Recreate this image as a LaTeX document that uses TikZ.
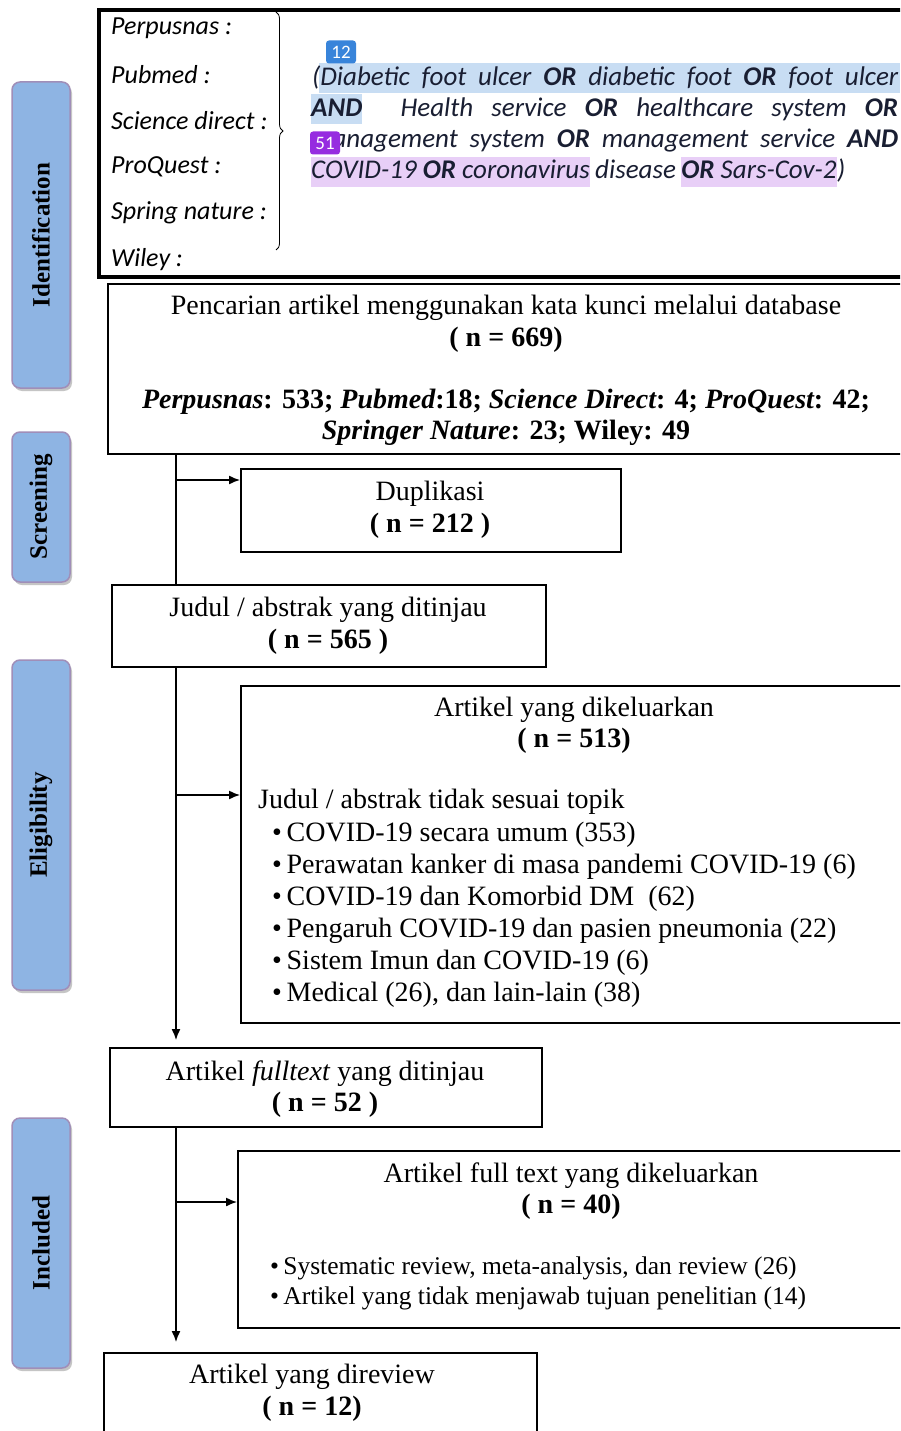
\documentclass[tikz,border=0pt]{standalone}
\usepackage{fontspec}
\setmainfont{Liberation Serif}
\newfontfamily\kwfont{Carlito}
\usetikzlibrary{positioning,arrows.meta,shadows,decorations.pathreplacing}

\definecolor{stageblue}{RGB}{142,180,227}
\definecolor{stageline}{RGB}{160,142,184}
\definecolor{hlblue}{RGB}{200,221,243}
\definecolor{hlpurple}{RGB}{232,207,247}
\definecolor{tagblue}{RGB}{56,132,218}
\definecolor{tagpurple}{RGB}{150,44,224}
\definecolor{kwtext}{RGB}{25,30,50}

\tikzset{
  box/.style={draw, line width=2.4pt, anchor=north west, inner sep=0pt},
  body/.style={font=\fontsize{28}{31}\selectfont, inner sep=0pt},
  small/.style={font=\fontsize{25.5}{30}\selectfont, inner sep=0pt},
  dbname/.style={font=\kwfont\itshape\fontsize{26}{31}\selectfont, inner sep=0pt, anchor=west},
  keyw/.style={font=\kwfont\itshape\fontsize{27}{31}\selectfont, inner xsep=0pt, inner ysep=0.5pt,
    text height=21pt, text depth=8pt, anchor=base west, text=kwtext},
  stage/.style={draw=stageline, fill=stageblue, line width=1.5pt, rounded corners=8pt,
    minimum width=58pt, inner sep=0pt, font=\bfseries\fontsize{25}{25}\selectfont,
    drop shadow={shadow xshift=2pt, shadow yshift=-3pt, fill=black!45}},
  tag/.style={fill=#1, rounded corners=3pt, text=white, font=\kwfont\fontsize{19}{19}\selectfont,
    minimum width=30pt, minimum height=23pt, inner sep=0pt},
  flow/.style={line width=1.4pt, -{Latex[length=11pt,width=9pt]}},
  trunk/.style={line width=1.4pt}
}

\begin{document}
\begin{tikzpicture}[x=1pt,y=-1pt]
  \fill[white] (0,0) rectangle (900,1431);
  \useasboundingbox (0,0) rectangle (900,1431);
  \clip (0,0) rectangle (900,1431);

  % stages on the left
  \foreach \stg/\top/\len in {Identification/82/306, Screening/432/150, Eligibility/660/330, Included/1118/250}
    \node[stage, minimum height=\len] (\stg) at (41,\top+\len/2) {\rotatebox{90}{\stg}};

  % search query
  \node[box, line width=4pt, minimum width=820, minimum height=267] (query) at (97,8) {};
  \foreach \db [count=\i] in {Perpusnas, Pubmed, Science direct, ProQuest, Spring nature, Wiley}
    \node[dbname] (db\i) at (111,-18+46.2*\i) {\db{} :};
  \draw[line width=0.8pt, decorate, decoration={brace, amplitude=7pt}] (276,12) -- (276,250);

  \fill[hlblue] (319,63) rectangle (900,93);
  \fill[hlblue] (311,94) rectangle (362,124);
  \node[keyw] (kw1) at (312,86) {\makebox[586pt][s]{(Diabetic foot ulcer \textbf{OR} diabetic foot \textbf{OR} foot ulcer}};
  \node[keyw] (kw2) at (311,117) {\makebox[587pt][s]{\textbf{AND}\hspace{20pt} Health service \textbf{OR} healthcare system \textbf{OR}}};
  \node[keyw] (kw3) at (311,148) {\makebox[587pt][s]{management system \textbf{OR} management service \textbf{AND}}};
  \node[keyw, fill=hlpurple] (kw4a) at (311,179) {COVID-19 \textbf{OR} coronavirus};
  \node[keyw] (kw4b) at (kw4a.base east) {\hspace*{5pt}disease\hspace*{5pt}};
  \node[keyw, fill=hlpurple] (kw4c) at (kw4b.base east) {\textbf{OR} Sars-Cov-2};
  \node[keyw] (kw4d) at (kw4c.base east) {)};
  \node[tag=tagblue] (tag12) at (341,52) {12};
  \node[tag=tagpurple] (tag51) at (325,143) {51};

  % database search
  \node[box, minimum width=820, minimum height=170] (search) at (107,283) {};
  \node[body] (searcht) at (506,308) {Pencarian artikel menggunakan kata kunci melalui database};
  \node[body] (searchn) at (506,340) {\bfseries ( n = 669)};
  \node[body, align=center] (searchdb) at (506,417) {\bfseries\itshape Perpusnas\upshape: 533; \itshape Pubmed\upshape:18; \itshape Science Direct\upshape: 4; \itshape ProQuest\upshape: 42;\\
    \bfseries\itshape Springer Nature\upshape: 23; Wiley: 49};

  % duplicates
  \node[box, minimum width=380, minimum height=83] (dup) at (240,468) {};
  \node[body] (dupt) at (430,494) {Duplikasi};
  \node[body] (dupn) at (430,526) {\bfseries ( n = 212 )};

  % title / abstract screening
  \node[box, minimum width=434, minimum height=82] (judul) at (111,584) {};
  \node[body] (judult) at (328,610) {Judul / abstrak yang ditinjau};
  \node[body] (juduln) at (328,642) {\bfseries ( n = 565 )};

  % excluded articles
  \node[box, minimum width=700, minimum height=337] (exc) at (240,685) {};
  \node[body] (exct) at (574,710) {Artikel yang dikeluarkan};
  \node[body] (excn) at (574,741) {\bfseries ( n = 513)};
  \node[body, anchor=west] (topik) at (258,802) {Judul / abstrak tidak sesuai topik};
  \foreach \why [count=\i] in {COVID-19 secara umum (353), Perawatan kanker di masa pandemi COVID-19 (6),
      COVID-19 dan Komorbid DM\ \ (62), Pengaruh COVID-19 dan pasien pneumonia (22),
      Sistem Imun dan COVID-19 (6), {Medical (26), dan lain-lain (38)}}
    \node[body, anchor=west] (why\i) at (272,803+32*\i) {\textbullet\,\why};

  % full text
  \node[box, minimum width=432, minimum height=79] (full) at (109,1047) {};
  \node[body] (fullt) at (325,1074) {Artikel \textit{fulltext} yang ditinjau};
  \node[body] (fulln) at (325,1105) {\bfseries ( n = 52 )};

  % full text excluded
  \node[box, minimum width=700, minimum height=177] (exc2) at (237,1150) {};
  \node[body] (exc2t) at (571,1176) {Artikel full text yang dikeluarkan};
  \node[body] (exc2n) at (571,1207) {\bfseries ( n = 40)};
  \node[small, anchor=west] (rev1) at (270,1268) {\textbullet\,Systematic review, meta-analysis, dan review (26)};
  \node[small, anchor=west] (rev2) at (270,1298) {\textbullet\,Artikel yang tidak menjawab tujuan penelitian (14)};

  % reviewed
  \node[box, minimum width=433, minimum height=120] (final) at (103,1352) {};
  \node[body] (finalt) at (312,1377) {Artikel yang direview};
  \node[body] (finaln) at (312,1409) {\bfseries ( n = 12)};

  % connectors
  \coordinate (trunk) at (176,0);
  \coordinate (dupin) at (240,480);
  \coordinate (excin) at (240,795);
  \coordinate (exc2in) at (237,1202);
  \draw[trunk] (search.south -| trunk) -- (judul.north -| trunk);
  \draw[flow] (dupin -| trunk) -- (dupin);
  \draw[flow, shorten >=7pt] (judul.south -| trunk) -- (full.north -| trunk);
  \draw[flow] (excin -| trunk) -- (excin);
  \draw[flow, shorten >=10pt] (full.south -| trunk) -- (final.north -| trunk);
  \draw[flow] (exc2in -| trunk) -- (exc2in);
\end{tikzpicture}
\end{document}
